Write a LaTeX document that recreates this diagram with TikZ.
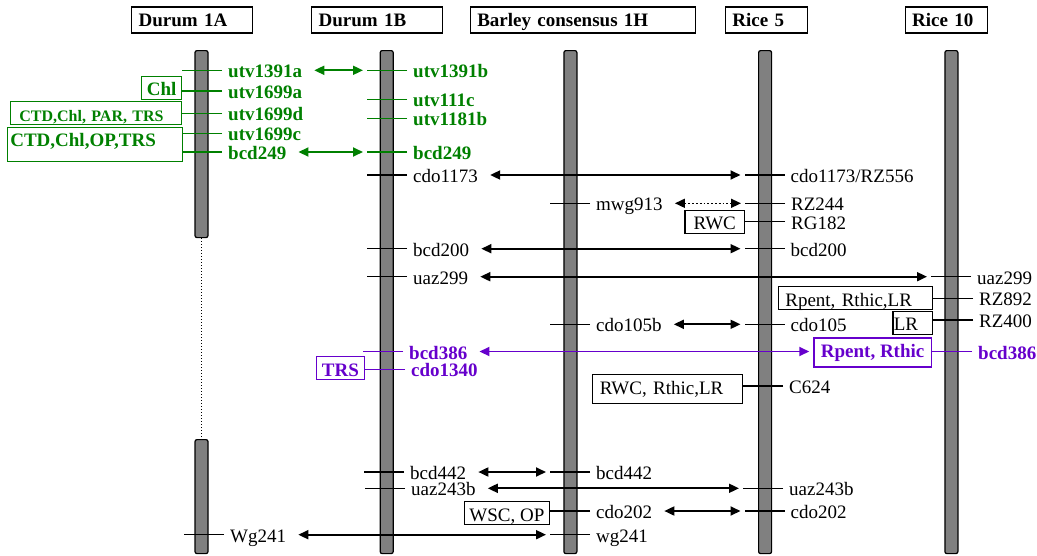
\documentclass[tikz,border=0pt]{standalone}
\usepackage{fontspec}
\setmainfont{Liberation Serif}
\usepackage{tikz}
\usetikzlibrary{arrows.meta,positioning}
\definecolor{mkgreen}{HTML}{008000}
\definecolor{mkpurple}{HTML}{6600CC}
\definecolor{chromgray}{HTML}{808080}
\newcommand{\mkfont}{\fontsize{19}{22}\selectfont}

\begin{document}
\begin{tikzpicture}[x=1pt, y=-1pt,
    hdr/.style={draw, line width=1.3pt, anchor=west, font=\mkfont\bfseries, inner xsep=7pt, inner ysep=0pt, minimum height=26pt, text height=13pt, text depth=0pt, text width=#1, align=left},
    chrom/.style={draw, fill=chromgray, line width=1.2pt, rounded corners=2pt, minimum width=13pt, inner sep=0pt, anchor=north},
    mk/.style={anchor=west, font=\mkfont, inner xsep=6pt, inner ysep=0pt, text height=15pt, text depth=0pt},
    tick/.style={line width=1.4pt},
    tag/.style={draw, line width=1.3pt, font=\mkfont, inner xsep=5pt, inner ysep=0.5pt, text height=19pt, text depth=3pt},
    link/.style={line width=1.8pt, {Triangle[length=10pt,width=9pt]}-{Triangle[length=10pt,width=9pt]}, shorten <=6pt, shorten >=4pt}]
  \useasboundingbox (0,0) rectangle (1037,555);

  % chromosome titles
  \node[hdr=107pt] (h1a) at (131,20) {Durum 1A};
  \node[hdr=117pt] (h1b) at (311,20) {Durum 1B};
  \node[hdr=211pt] (hbar) at (469.6,20) {Barley consensus 1H};
  \node[hdr=68pt] (hr5) at (724.7,20) {Rice 5};
  \node[hdr=68.5pt] (hr10) at (904.5,20) {Rice 10};

  % chromosomes
  \node[chrom, minimum height=187pt] (bar1a) at (201.5,50) {};
  \node[chrom, minimum height=114pt] (bar1alow) at (201.5,439) {};
  \node[chrom, minimum height=503pt] (bar1b) at (386.7,50) {};
  \node[chrom, minimum height=503pt] (barbarley) at (570.4,50) {};
  \node[chrom, minimum height=503pt] (barrice5) at (765.1,50) {};
  \node[chrom, minimum height=503pt] (barrice10) at (951.4,50) {};
  \draw[dotted, line width=1pt] (bar1a.south) -- (bar1alow.north);

  % markers
  \foreach \n/\x/\y/\t in {a1/222/70.3/utv1391a, a2/222/91/utv1699a, a3/222/113.3/utv1699d, a4/222/133.3/utv1699c, a5/222/152/bcd249,
      b1/407/70.3/utv1391b, b2/407/99.3/utv111c, b3/407/118.3/utv1181b, b4/407/152/bcd249}{
    \node[mk, text=mkgreen, font=\mkfont\bfseries] (\n) at (\x,\y) {\t};
    \draw[tick, mkgreen] (\n.west) -- ++(-40,0);
  }
  \foreach \n/\x/\y/\t in {b5/407/175/cdo1173, b6/407/248.7/bcd200, b7/407/276.7/uaz299, b10/404/472/bcd442, b11/405/488.3/uaz243b, a6/224/534.7/Wg241,
      c1/590/203.3/mwg913, c2/590/324.3/cdo105b, c3/590/472/bcd442, c4/590/511/cdo202, c5/590/534.7/wg241,
      d1/784.5/175/{cdo1173/RZ556}, d2/785/203.3/RZ244, d3/785/221.7/RG182, d4/784.5/248.7/bcd200, d5/784.5/324.3/cdo105, d6/783/386/C624, d7/783/488.3/uaz243b, d8/784.5/511/cdo202,
      e1/971/276.7/uaz299, e2/973/298.3/RZ892, e3/973/320/RZ400}{
    \node[mk] (\n) at (\x,\y) {\t};
    \draw[tick] (\n.west) -- ++(-40,0);
  }
  \foreach \n/\x/\y/\t in {b8/403/351.5/bcd386, b9/405/369.3/cdo1340, e4/972/351.5/bcd386}{
    \node[mk, text=mkpurple, font=\mkfont\bfseries] (\n) at (\x,\y) {\t};
    \draw[tick, mkpurple] (\n.west) -- ++(-40,0);
  }

  % traits
  \node[tag, text=mkgreen, draw=mkgreen, font=\mkfont\bfseries, left=40pt of a2, yshift=3.3pt] (chl) {Chl};
  \node[tag, text=mkgreen, draw=mkgreen, font=\fontsize{16}{18}\selectfont\bfseries, text width=153pt, inner xsep=9pt, align=left, left=40pt of a3] (ctdpar) {CTD,Chl, PAR, TRS};
  \node[tag, text=mkgreen, draw=mkgreen, font=\mkfont\bfseries, anchor=north east, text width=169pt, inner xsep=3pt, inner ysep=3.5pt, text height=16pt, text depth=11pt, align=left] (ctdop) at (183,126.7) {CTD,Chl,OP,TRS};
  \node[tag, text=mkpurple, draw=mkpurple, font=\mkfont\bfseries, inner xsep=5.5pt, left=40pt of b9, yshift=1pt] (trs) {TRS};
  \node[tag, inner xsep=8.5pt, left=40pt of d3] (rwc) {RWC};
  \node[tag, text width=140pt, inner xsep=7pt, align=left, left=40pt of e2] (rrl) {Rpent, Rthic,LR};
  \node[tag, text width=37.5pt, inner xsep=1pt, align=left, left=40pt of e3, yshift=-2.8pt] (lr) {LR};
  \node[tag, text=mkpurple, draw=mkpurple, font=\mkfont\bfseries, text depth=9pt, inner xsep=7pt, left=40pt of e4, yshift=-1pt] (rpbox) {Rpent, Rthic};
  \node[tag, text width=135pt, inner xsep=7.5pt, align=left, text depth=9pt, left=40pt of d6, yshift=-3pt] (rtl) {RWC, Rthic,LR};
  \node[tag, left=40pt of c4, yshift=-2pt] (wsc) {WSC, OP};

  % homologies
  \foreach \s/\t in {b5/d1, b6/d4, b7/e1, c2/d5, b10/c3, b11/d7, c4/d8, a6/c5}{\draw[link] (\s.east) -- ([xshift=-40pt]\t.west);}
  \foreach \s/\t in {a1/b1, a5/b4}{\draw[link, mkgreen] (\s.east) -- ([xshift=-40pt]\t.west);}
  \draw[link, mkpurple] (b8.east) -- (rpbox.west |- b8.east);
  \draw[link, dotted, line width=1.5pt] (c1.east) -- ([xshift=-40pt]d2.west);
\end{tikzpicture}
\end{document}
